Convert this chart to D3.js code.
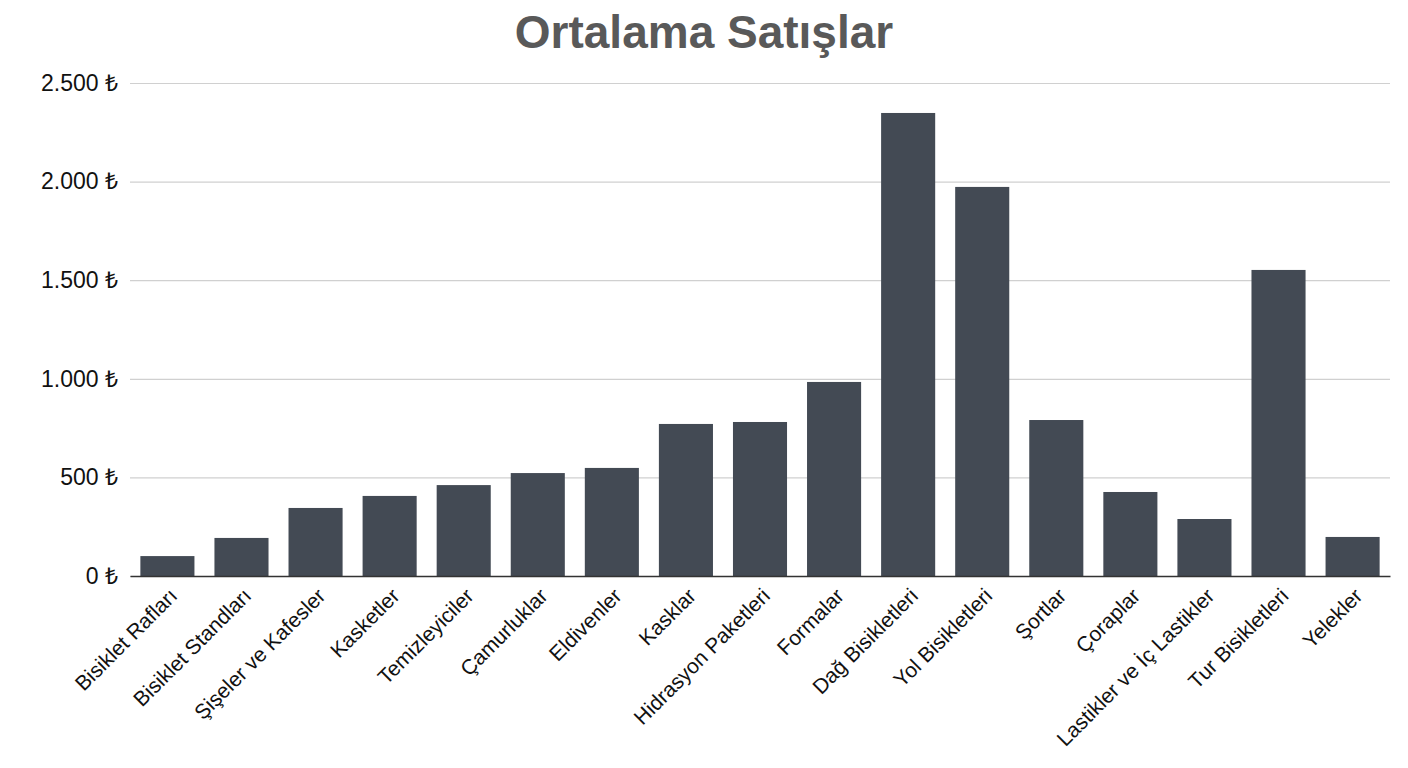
<!DOCTYPE html>
<html><head><meta charset="utf-8">
<script src="https://cdn.jsdelivr.net/npm/d3@7"></script>
<style>body{margin:0;background:#fff}</style></head>
<body><svg id="c" width="1408" height="768"></svg>
<script>
const categories = ["Bisiklet Rafları","Bisiklet Standları","Şişeler ve Kafesler","Kasketler","Temizleyiciler","Çamurluklar","Eldivenler","Kasklar","Hidrasyon Paketleri","Formalar","Dağ Bisikletleri","Yol Bisikletleri","Şortlar","Çoraplar","Lastikler ve İç Lastikler","Tur Bisikletleri","Yelekler"];
const values = [101,193,345,406,461,522,548,771,781,984,2348,1973,791,426,289,1552,198];
const yTicks = [0,500,1000,1500,2000,2500];

const margin = {l: 130, r: 18, t: 83, b: 192};
const width = 1408, height = 768;
const svg = d3.select("#c");
const font = "Liberation Sans, Arial, sans-serif";

const x = d3.scaleBand().domain(categories).range([margin.l, width - margin.r]).paddingInner(0.27).paddingOuter(0.14);
const y = d3.scaleLinear().domain([0, 2500]).range([height - margin.b, margin.t]);
const fmt = v => d3.format(",")(v).replace(/,/g, ".") + " ₺";

svg.append("text").attr("x", 704).attr("y", 48).attr("text-anchor", "middle")
  .style("font", `bold 46px ${font}`).attr("fill", "#595959").text("Ortalama Satışlar");

const yAxis = svg.append("g").attr("transform", `translate(${margin.l},0)`)
  .call(d3.axisLeft(y).tickValues(yTicks).tickFormat(fmt).tickSize(-(width - margin.l - margin.r)).tickPadding(12));
yAxis.select(".domain").remove();
yAxis.selectAll(".tick line").attr("stroke", "#d0d0d0").attr("stroke-width", 1.2);
yAxis.selectAll("text").style("font", `23px ${font}`).attr("fill", "#111");

svg.append("g").selectAll("rect").data(values).join("rect")
  .attr("x", (d, i) => x(categories[i])).attr("width", x.bandwidth())
  .attr("y", d => y(d)).attr("height", d => y(0) - y(d)).attr("fill", "#434a54");

const xAxis = svg.append("g").attr("transform", `translate(0,${y(0)})`)
  .call(d3.axisBottom(x).tickSize(0).tickPadding(0));
xAxis.select(".domain").attr("stroke", "#333").attr("stroke-width", 1.5);
xAxis.selectAll("text").style("font", `21px ${font}`).attr("fill", "#111")
  .attr("text-anchor", "end").attr("transform", "translate(6,16) rotate(-45)").attr("dy", "0.35em");
</script></body></html>
